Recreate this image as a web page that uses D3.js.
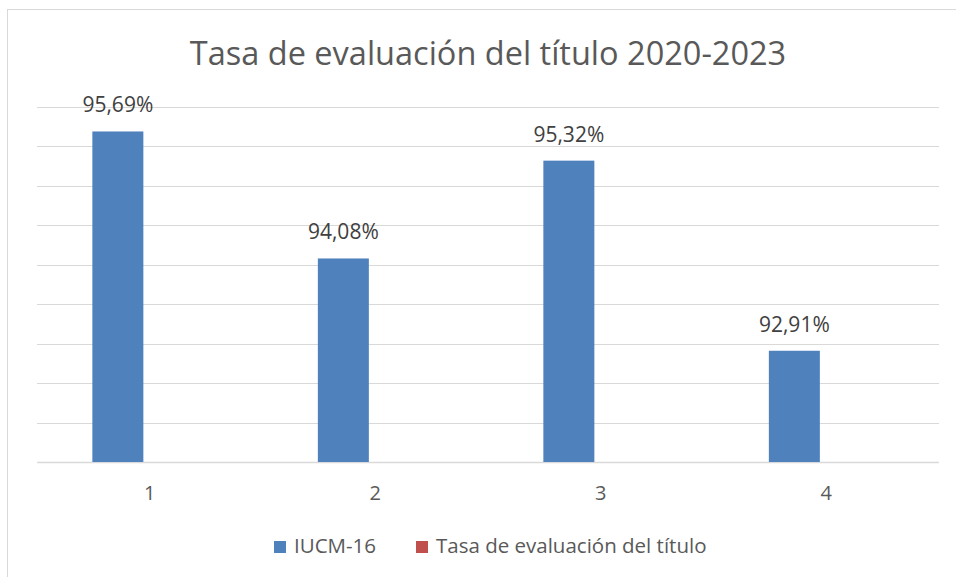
<!DOCTYPE html>
<html lang="es">
<head>
  <meta charset="UTF-8">
  <title>Tasa de evaluación</title>
  <script src="https://d3js.org/d3.v7.min.js"></script>
  <style>
    body { margin: 0; background: #fff; }
    text { font-family: "Open Sans", "Noto Sans", sans-serif; }
  </style>
</head>
<body>
<div id="chart"></div>
<script>
  // data
  const categories = ["1", "2", "3", "4"]
  const iucm16 = [95.69, 94.08, 95.32, 92.91]
  const tasaTitulo = [null, null, null, null]
  const seriesNames = ["IUCM-16", "Tasa de evaluación del título"]
  const seriesColors = ["#4F81BD", "#C0504D"]
  const titleText = "Tasa de evaluación del título 2020-2023"

  const width = 956, height = 577
  const plot = {left: 37, right: 939, top: 107, bottom: 462}

  const svg = d3.select("#chart").append("svg")
    .attr("width", width)
    .attr("height", height)

  // chart border (only top and left fall inside the picture)
  svg.append("rect")
    .attr("x", 7.5).attr("y", 9.5)
    .attr("width", 1000).attr("height", 1000)
    .attr("fill", "none")
    .attr("stroke", "#d9d9d9")

  const x = d3.scaleBand()
    .domain(categories)
    .range([plot.left, plot.right])

  const y = d3.scaleLinear()
    .domain([91.5, 96])
    .range([plot.bottom, plot.top])

  // gridlines every 0.5
  svg.append("g")
    .selectAll("line")
    .data(d3.range(91.5, 96.01, 0.5))
    .join("line")
    .attr("x1", plot.left)
    .attr("x2", plot.right)
    .attr("y1", d => Math.round(y(d)) + 0.5)
    .attr("y2", d => Math.round(y(d)) + 0.5)
    .attr("stroke", "#d9d9d9")
    .attr("stroke-width", d => d === 91.5 ? 1.6 : 1)

  const barW = 51
  const gap = 12.8   // series overlap -25%

  const table = categories.map((c, i) => ({cat: c, v: [iucm16[i], tasaTitulo[i]]}))

  const groups = svg.append("g").selectAll("g")
    .data(table)
    .join("g")

  groups.each(function(d) {
    const g = d3.select(this)
    const cx = x(d.cat) + x.bandwidth() / 2
    d.v.forEach((v, s) => {
      if (v == null) return
      const x0 = s === 0 ? cx - gap / 2 - barW : cx + gap / 2
      g.append("rect")
        .attr("x", x0)
        .attr("y", y(v))
        .attr("width", barW)
        .attr("height", y.range()[0] - y(v))
        .attr("fill", seriesColors[s])
      g.append("text")
        .attr("x", x0 + barW / 2)
        .attr("y", y(v) - 19)
        .attr("text-anchor", "middle")
        .attr("font-size", 21)
        .attr("fill", "#404040")
        .text(v.toFixed(2).replace(".", ",") + "%")
    })
  })

  // category labels
  svg.append("g")
    .selectAll("text")
    .data(categories)
    .join("text")
    .attr("x", d => x(d) + x.bandwidth() / 2)
    .attr("y", 500)
    .attr("text-anchor", "middle")
    .attr("font-size", 20)
    .attr("fill", "#595959")
    .text(d => d)

  // title
  svg.append("text")
    .attr("x", 488)
    .attr("y", 65)
    .attr("text-anchor", "middle")
    .attr("font-size", 32.5)
    .attr("fill", "#595959")
    .text(titleText)

  // legend
  const legendX = [274, 416]
  const legend = svg.append("g")
    .selectAll("g")
    .data(seriesNames)
    .join("g")
    .attr("transform", (d, i) => `translate(${legendX[i]},541)`)
  legend.append("rect")
    .attr("width", 12).attr("height", 12)
    .attr("fill", (d, i) => seriesColors[i])
  legend.append("text")
    .attr("x", 20)
    .attr("y", 12)
    .attr("font-size", 20.5)
    .attr("fill", "#595959")
    .text(d => d)
</script>
</body>
</html>
